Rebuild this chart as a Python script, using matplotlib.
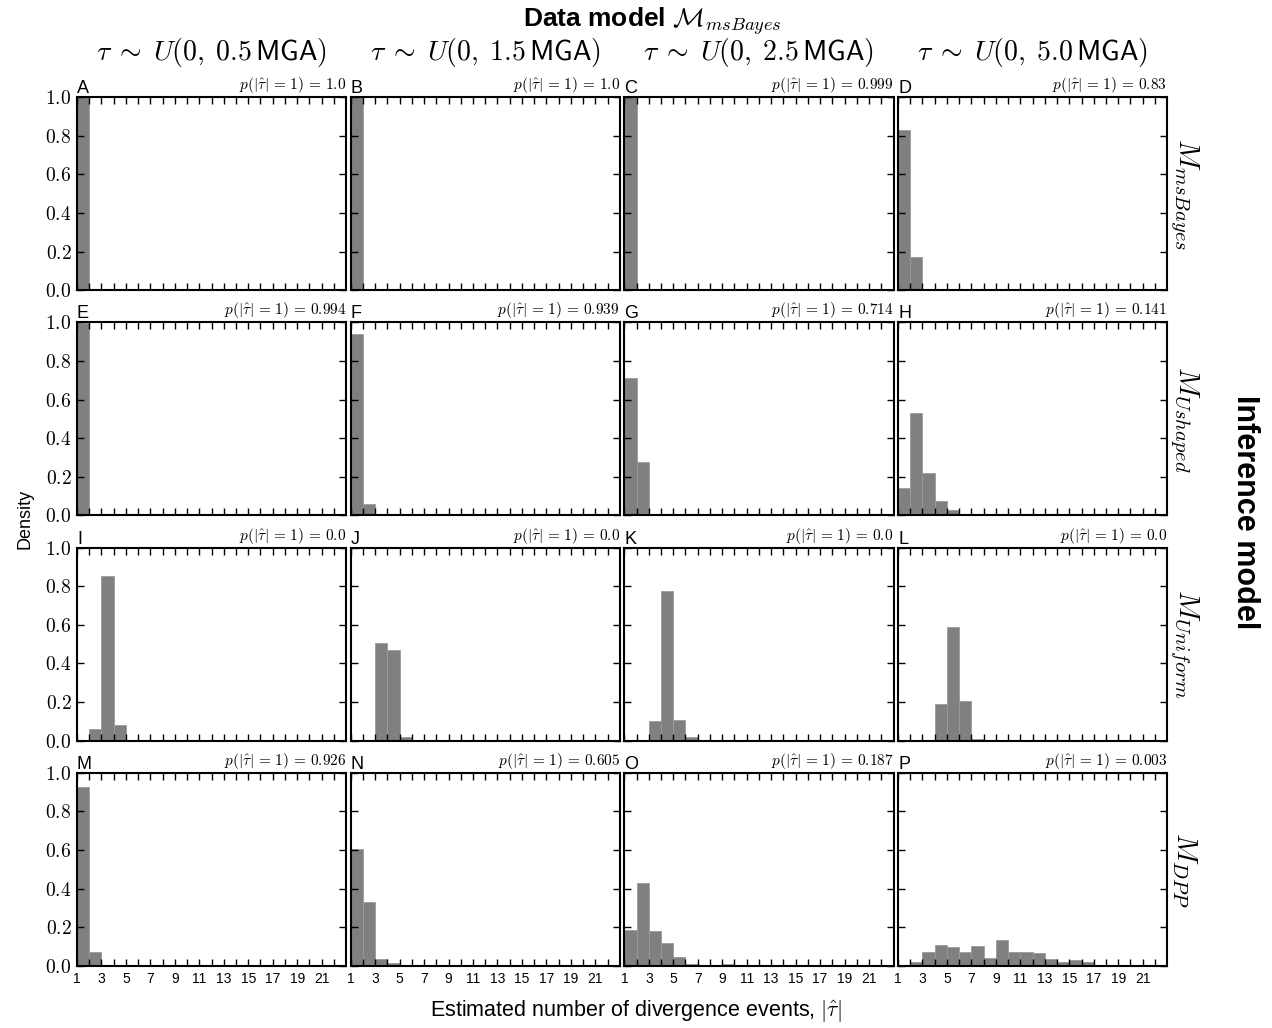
import numpy as np
import matplotlib
matplotlib.use("Agg")
import matplotlib.pyplot as plt
from matplotlib.ticker import FormatStrFormatter

plt.rcParams['font.family'] = ['Liberation Sans', 'DejaVu Sans']
plt.rcParams['mathtext.fontset'] = 'cm'

# column = data model prior on tau, row = inference model
col_titles = [r'$\tau\;\sim\;U(0,\; 0.5\,\mathsf{MGA})$',
              r'$\tau\;\sim\;U(0,\; 1.5\,\mathsf{MGA})$',
              r'$\tau\;\sim\;U(0,\; 2.5\,\mathsf{MGA})$',
              r'$\tau\;\sim\;U(0,\; 5.0\,\mathsf{MGA})$']
row_labels = [r'$M_{msBayes}$', r'$M_{Ushaped}$', r'$M_{Uniform}$', r'$M_{DPP}$']
letters = list("ABCDEFGHIJKLMNOP")

p_one = [1.0, 1.0, 0.999, 0.83,
         0.994, 0.939, 0.714, 0.141,
         0.0, 0.0, 0.0, 0.0,
         0.926, 0.605, 0.187, 0.003]

# densities for |tau| = 1, 2, 3, ...
dens_msbayes = [
    [1.0],
    [1.0],
    [0.999, 0.001],
    [0.83, 0.17],
]
dens_ushaped = [
    [0.994, 0.006],
    [0.939, 0.06, 0.001],
    [0.714, 0.276, 0.01],
    [0.141, 0.53, 0.22, 0.075, 0.026, 0.005, 0.003],
]
dens_uniform = [
    [0.0, 0.06, 0.855, 0.082, 0.003],
    [0.0, 0.0, 0.508, 0.47, 0.022],
    [0.0, 0.0, 0.10, 0.775, 0.108, 0.017],
    [0.0, 0.0, 0.0, 0.192, 0.59, 0.208, 0.01],
]
dens_dpp = [
    [0.926, 0.074],
    [0.605, 0.333, 0.038, 0.017, 0.005, 0.002],
    [0.187, 0.429, 0.182, 0.119, 0.047, 0.01, 0.005, 0.004, 0.012, 0.005],
    [0.003, 0.022, 0.074, 0.111, 0.100, 0.074, 0.106, 0.040, 0.137, 0.074,
     0.074, 0.069, 0.038, 0.022, 0.031, 0.021, 0.004],
]

x_ticks = list(range(1, 23))
x_ticklabels = [str(k) if k % 2 == 1 else '' for k in x_ticks]
y_ticks = [0.0, 0.2, 0.4, 0.6, 0.8, 1.0]

fig, axes = plt.subplots(4, 4, figsize=(12.72, 10.28), dpi=100, sharex=True, sharey=True)
fig.subplots_adjust(left=0.0605, right=0.9176, top=0.9056, bottom=0.0603,
                    wspace=0.0167, hspace=0.166)

all_rows = [dens_msbayes, dens_ushaped, dens_uniform, dens_dpp]
for i in range(4):
    for j in range(4):
        ax = axes[i, j]
        k = i * 4 + j
        d = all_rows[i][j]
        bins = np.arange(1, len(d) + 1)
        ax.bar(bins, d, width=1.0, align='edge', color='#808080',
               edgecolor='#9a9a9a', linewidth=0.6)
        ax.set_xlim(1, 23)
        ax.set_ylim(0, 1)
        ax.set_xticks(x_ticks)
        ax.set_xticklabels(x_ticklabels)
        ax.set_yticks(y_ticks)
        ax.yaxis.set_major_formatter(FormatStrFormatter(r'$%.1f$'))
        ax.tick_params(direction='in', top=True, right=True, length=5, width=1)
        ax.tick_params(axis='x', labelsize=10, pad=4)
        ax.tick_params(axis='y', labelsize=14, pad=4)
        for sp in ax.spines.values():
            sp.set_linewidth(1.5)
        ax.text(0.0, 1.0, letters[k], transform=ax.transAxes, ha='left', va='bottom',
                fontsize=13)
        ax.text(1.0, 1.01, r'$p(|\hat{\tau}|\,=\,1)\,=\,%s$' % str(p_one[k]),
                transform=ax.transAxes, ha='right', va='bottom', fontsize=11)

# column titles
for j in range(4):
    pos = axes[0, j].get_position()
    fig.text((pos.x0 + pos.x1) / 2, 0.949, col_titles[j], ha='center', va='center',
             fontsize=20)

# row labels on the right
for i in range(4):
    pos = axes[i, 3].get_position()
    fig.text(0.931, (pos.y0 + pos.y1) / 2, row_labels[i], ha='center', va='center',
             rotation=270, fontsize=21)

fig.text(0.513, 0.980, r'Data model $\mathcal{M}_{msBayes}$', ha='center', va='center',
         fontsize=19, fontweight='bold')
fig.text(0.979, 0.502, 'Inference model', ha='center', va='center', rotation=270,
         fontsize=22, fontweight='bold')
fig.text(0.020, 0.495, 'Density', ha='center', va='center', rotation=90, fontsize=13)
fig.text(0.5, 0.016, r'Estimated number of divergence events, $|\hat{\tau}|$',
         ha='center', va='center', fontsize=15.5)

fig.savefig('out.png', dpi=100)
